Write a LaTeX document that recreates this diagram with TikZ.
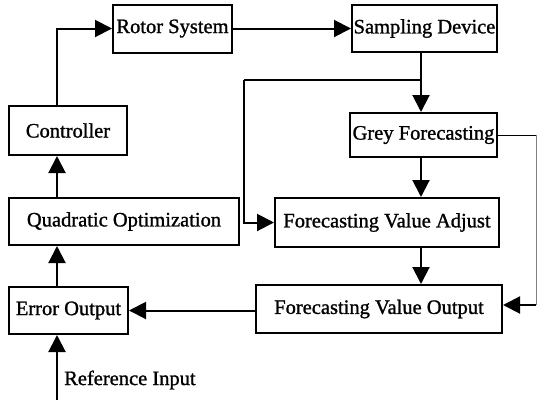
\documentclass[tikz,border=0pt]{standalone}
\usepackage{fontspec}
\setmainfont{Liberation Serif}
\newfontfamily\thk{Liberation Serif}[FakeBold=1.2]
\usetikzlibrary{arrows.meta}
\begin{document}
\begin{tikzpicture}[x=1pt,y=-1pt,
  txt/.style={font=\thk\fontsize{20.5}{23}\selectfont},
  blk/.style={draw,line width=2pt,inner sep=0pt,txt},
  ln/.style={line width=2pt},
  arr/.style={line width=2pt,-{Triangle[length=17pt,width=17pt]}}]
\useasboundingbox (0,0) rectangle (537,400);
\node[blk,minimum width=119pt,minimum height=48pt] (rotor) at (172.5,28.5) {Rotor System};
\node[blk,minimum width=145pt,minimum height=47pt] (sampling) at (424.5,28.5) {Sampling Device};
\node[blk,minimum width=147pt,minimum height=44pt] (grey) at (423.5,135) {Grey Forecasting};
\node[blk,minimum width=118pt,minimum height=49pt] (controller) at (68,130.5) {Controller};
\node[blk,minimum width=230pt,minimum height=47pt] (quad) at (124,221.5) {Quadratic Optimization};
\node[blk,minimum width=224pt,minimum height=49pt] (fva) at (387,222.5) {Forecasting Value Adjust};
\node[blk,minimum width=119pt,minimum height=47pt] (error) at (68.5,310.5) {Error Output};
\node[blk,minimum width=246pt,minimum height=48pt] (fvo) at (379,309) {Forecasting Value Output};
\node[anchor=west,txt,inner sep=0pt] (reflabel) at (64,380) {Reference Input};
\coordinate (spine) at (57,0);
\coordinate (col) at (421,0);
\coordinate (refin) at (57,400);
\coordinate (br) at (421,80);
\coordinate (brl) at (244,80);
\coordinate (rc) at (536,135);
\coordinate (rcb) at (536,305);
% left column
\draw[arr] (controller.north -| spine) |- (rotor.west);
\draw[arr] (quad.north -| spine) -- (controller.south -| spine);
\draw[arr] (error.north -| spine) -- (quad.south -| spine);
\draw[arr] (refin) -- (error.south -| spine);
% top
\draw[arr] (rotor.east) -- (sampling.west);
\draw[arr] (sampling.south -| col) -- (grey.north -| col);
\draw[ln] (br) -- (brl);
\draw[arr] (brl) |- (fva.west);
\draw[arr] (grey.south -| col) -- (fva.north -| col);
\draw[arr] (fva.south -| col) -- (fvo.north -| col);
\draw[arr] (fvo.west |- error.east) -- (error.east);
% right feedback
\draw[line width=1pt] (grey.east) -- (rc);
\draw[line width=0.7pt,gray] (rc) -- (rcb);
\draw[arr] (rcb) -- (fvo.east |- rcb);
\end{tikzpicture}
\end{document}
